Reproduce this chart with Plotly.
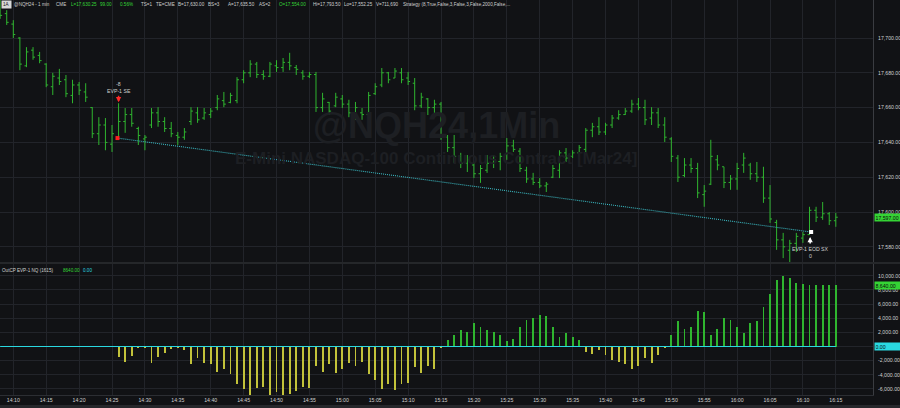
import pandas as pd
import plotly.graph_objects as go

# ---------------- data ----------------
session_day = "2024-01-02"
bar_times = pd.date_range(f"{session_day} 14:08", periods=128, freq="min")

highs = [
    17724, 17716, 17710.25, 17700.5, 17694.75, 17694.75, 17692, 17685.5, 17680, 17682.25,
    17678.75, 17676, 17674.75, 17674, 17660.25, 17654.5, 17654, 17650, 17662.5, 17659.75,
    17659.75, 17649, 17644.25, 17659.75, 17660.25, 17654.5, 17651.75, 17646, 17648.25, 17660.25,
    17660.25, 17659.75, 17659.75, 17667.25, 17669, 17668.5, 17677.5, 17681.5, 17687.25, 17686.25,
    17681.5, 17686.25, 17687.25, 17688.5, 17691.5, 17684.5, 17681.5, 17680.5, 17680.5, 17668.5,
    17663.25, 17668.5, 17667.25, 17664.5, 17663.25, 17659.75, 17669, 17674, 17682.75, 17680.5,
    17682.75, 17682.75, 17680.5, 17677, 17668.5, 17665.5, 17664.5, 17663.25, 17644.25, 17644.25,
    17634, 17632.75, 17628.75, 17627, 17632.75, 17632.75, 17634, 17642.5, 17641.5, 17636.75,
    17626, 17622.5, 17619.5, 17617.25, 17627, 17635.5, 17636.75, 17635.5, 17638.5, 17648.25,
    17651.25, 17654.5, 17651.25, 17655.75, 17658.5, 17659.75, 17664.5, 17665.5, 17664.5, 17660.25,
    17659.75, 17654.5, 17643, 17632.75, 17631, 17631, 17628.25, 17615.5, 17641.5, 17632.75,
    17626, 17621.25, 17628.25, 17634, 17628.25, 17628.75, 17626, 17615.5, 17595.5, 17588,
    17584, 17588, 17588.5, 17603, 17603, 17605.75, 17600, 17599.5,
]
lows = [
    17711, 17707.5, 17700, 17681.5, 17683.25, 17687.5, 17685.5, 17671.75, 17667.25, 17673,
    17666, 17662.5, 17667.25, 17663.25, 17642.5, 17638.5, 17635.5, 17634.5, 17643, 17645.5,
    17649, 17638.5, 17635.5, 17648.25, 17649, 17646, 17643, 17638.5, 17641.5, 17650,
    17651.25, 17653, 17654, 17658.5, 17660.25, 17662.5, 17662.5, 17674, 17677.5, 17677,
    17676, 17677.5, 17680.5, 17680.5, 17681.5, 17678.75, 17676, 17677, 17657.5, 17657.5,
    17655.75, 17660.25, 17659.75, 17654.5, 17653, 17653, 17653, 17667.25, 17671.75, 17674,
    17677, 17674, 17673, 17658.5, 17659.75, 17655.75, 17654.5, 17641.5, 17634.5, 17628.25,
    17625.25, 17623, 17619.5, 17616.75, 17622.5, 17625.25, 17624, 17630, 17634.5, 17623,
    17616.75, 17615.5, 17613.75, 17611.5, 17619.5, 17619.5, 17628.75, 17631, 17632, 17634,
    17643, 17644.25, 17644.25, 17648.25, 17653, 17655.75, 17657, 17658.5, 17650, 17650,
    17648.25, 17640.25, 17628.75, 17617.25, 17620, 17622.5, 17608, 17603, 17615.5, 17624,
    17613.75, 17612.75, 17612.75, 17622.5, 17618.5, 17617.25, 17605.25, 17593.75, 17578.25, 17573.5,
    17571.25, 17577, 17582.25, 17586.75, 17594.25, 17595.5, 17592.5, 17591.5,
]
opens = [
    17722, 17714, 17708, 17700, 17684, 17693, 17690, 17685, 17672, 17677,
    17676, 17667, 17673, 17669, 17660, 17645, 17650, 17639, 17643, 17652,
    17656, 17648, 17642, 17650, 17657, 17652, 17648, 17644, 17643, 17652,
    17657, 17654, 17656, 17660, 17664, 17663, 17664, 17676, 17680, 17685,
    17679, 17678, 17684, 17683, 17686, 17683, 17680, 17678, 17679, 17660,
    17663, 17661, 17665, 17662, 17657, 17657, 17656, 17668, 17673, 17680,
    17677, 17680, 17677, 17674, 17661, 17665, 17660, 17662, 17643, 17637,
    17632, 17628, 17627, 17622, 17624, 17628, 17629, 17633, 17638, 17635,
    17624, 17619, 17617, 17615, 17620, 17624, 17634, 17632, 17634, 17636,
    17647, 17649, 17646, 17650, 17654, 17656, 17658, 17662, 17660, 17654,
    17657, 17650, 17642, 17631, 17621, 17627, 17625, 17610, 17616, 17630,
    17626, 17617, 17619, 17627, 17627, 17622, 17620, 17608, 17594, 17584,
    17578, 17582, 17585, 17587, 17601, 17597, 17599, 17595,
]
closes = [
    17713, 17709, 17702, 17685, 17692, 17689, 17687, 17673, 17678, 17675,
    17668, 17673, 17670, 17666, 17645, 17650, 17640, 17645, 17652, 17656,
    17651, 17644, 17643, 17657, 17652, 17648, 17645, 17643, 17646, 17658,
    17653, 17657, 17658, 17665, 17662, 17667, 17676, 17680, 17685, 17679,
    17678, 17685, 17683, 17686, 17684, 17682, 17678, 17679, 17660, 17665,
    17658, 17666, 17662, 17657, 17660, 17656, 17667, 17672, 17680, 17676,
    17681, 17676, 17675, 17661, 17666, 17660, 17662, 17643, 17637, 17632,
    17628, 17630, 17622, 17625, 17628, 17630, 17632, 17638, 17636, 17625,
    17619, 17617, 17615, 17616, 17625, 17634, 17631, 17634, 17637, 17647,
    17649, 17646, 17650, 17654, 17656, 17658, 17662, 17660, 17653, 17657,
    17650, 17643, 17632, 17620, 17627, 17625, 17611, 17612, 17632, 17627,
    17617, 17619, 17625, 17631, 17622, 17620, 17608, 17596, 17584, 17580,
    17582, 17586, 17587, 17601, 17597, 17599, 17595, 17597,
]

# OutCP EVP-1 NQ (1615) indicator, from 14:26 onwards
outcp_times = pd.date_range(f"{session_day} 14:26", periods=110, freq="min")
outcp = [
    -1520, -2160, -1360, -240, -80, -2320, -1520, -880, -400, -80,
    -560, -2480, -1680, -2320, -2480, -3600, -3120, -3920, -5360, -6000,
    -6800, -5840, -5680, -6800, -6480, -6960, -6640, -6320, -5680, -5840,
    -2800, -3600, -2480, -3760, -3120, -2320, -2800, -2160, -3920, -4720,
    -6000, -5360, -6160, -5360, -5200, -2960, -3760, -2800, -3120, -80,
    880, 1680, 2320, 2000, 3280, 2800, 2320, 2000, 1680, 720,
    1040, 2800, 3760, 4080, 4400, 4240, 2800, 1360, 1840, 1360,
    880, -720, -1040, -560, -1200, -1840, -2160, -2480, -3120, -2800,
    -1680, -2320, -1200, -80, 1680, 3600, 2480, 2800, 5040, 4880,
    1680, 2480, 4080, 3760, 2800, 1840, 3280, 3600, 5520, 7440,
    9360, 10000, 9680, 9040, 8880, 8640, 8640, 8640, 8640, 8640,
]
zero_plot = [0.0] * 128

# trade
entry_time = pd.Timestamp(f"{session_day} 14:25:50")
entry_bar_time = pd.Timestamp(f"{session_day} 14:26")
entry_bar_high = 17662.5
entry_price = 17642.5
exit_time = pd.Timestamp(f"{session_day} 16:11:15")
exit_price = 17588.5
last_price = 17597.00
outcp_last = 8640.00

time_ticks = pd.date_range(f"{session_day} 14:10", f"{session_day} 16:15", freq="5min")
price_ticks = [17580, 17600, 17620, 17640, 17660, 17680, 17700]
ind_ticks = [-6000, -4000, -2000, 0, 2000, 4000, 6000, 8000, 10000]
ind_ticktext = ["-6,000.00", "-4,000.00", "-2,000.00", "", "2,000.00",
                "4,000.00", "6,000.00", "8,000.00", "10,000.00"]

# ---------------- style ----------------
BG = "#111215"
GRID = "#22242a"
GREEN = "#2fb52f"
BRIGHT_GREEN = "#35d435"
YELLOW = "#c2c23a"
CYAN = "#2ad8e0"
TXT = "#cfcfcf"
FONT = "Arial"
FS = 5.2
HFS = 4.6

W, H = 900, 408
ML, MR, MT, MB = 0, 27, 0, 13
PW, PH = W - ML - MR, H - MT - MB


def px(x):
    return x / PW


def py(y):
    return (PH - y) / PH


fig = go.Figure()

# price bars
fig.add_trace(go.Ohlc(
    x=bar_times, open=opens, high=highs, low=lows, close=closes,
    xaxis="x2", yaxis="y2", tickwidth=0.3,
    increasing=dict(line=dict(color=GREEN, width=1)),
    decreasing=dict(line=dict(color=GREEN, width=1)),
    hoverinfo="skip",
))
# trade line
fig.add_trace(go.Scatter(
    x=[entry_time, exit_time], y=[entry_price, exit_price], mode="lines",
    line=dict(color="#3ab6bf", width=1.1, dash="1px,1px"),
    xaxis="x2", yaxis="y2", hoverinfo="skip",
))
fig.add_trace(go.Scatter(
    x=[entry_time], y=[entry_price], mode="markers",
    marker=dict(symbol="square", size=4, color="#ff2020"),
    xaxis="x2", yaxis="y2", hoverinfo="skip",
))
fig.add_trace(go.Scatter(
    x=[exit_time], y=[exit_price], mode="markers",
    marker=dict(symbol="square", size=4, color="#ffffff"),
    xaxis="x2", yaxis="y2", hoverinfo="skip",
))

# indicator
fig.add_trace(go.Bar(
    x=outcp_times, y=outcp,
    marker=dict(color=[GREEN if v > 0 else YELLOW for v in outcp], line=dict(width=0)),
    width=8000, xaxis="x", yaxis="y", hoverinfo="skip",
))
fig.add_trace(go.Scatter(
    x=bar_times, y=zero_plot, mode="lines", line=dict(color=CYAN, width=1),
    xaxis="x", yaxis="y", hoverinfo="skip",
))

x_range = [f"{session_day} 14:07:58.7", f"{session_day} 16:20:39"]
tick_font = dict(family=FONT, size=FS, color=TXT)

fig.update_layout(
    width=W, height=H,
    margin=dict(l=ML, r=MR, t=MT, b=MB),
    paper_bgcolor=BG, plot_bgcolor=BG,
    showlegend=False, bargap=0,
    xaxis=dict(
        domain=[0, 1], anchor="y", type="date", range=x_range,
        tickmode="array", tickvals=list(time_ticks), tickformat="%H:%M",
        showgrid=True, gridcolor=GRID, gridwidth=1, ticks="",
        tickfont=tick_font, showline=True, linecolor="#2c2e33", zeroline=False,
    ),
    xaxis2=dict(
        matches="x", anchor="y2", type="date", range=x_range,
        tickmode="array", tickvals=list(time_ticks),
        showticklabels=False, showgrid=True, gridcolor=GRID, ticks="",
        rangeslider=dict(visible=False), zeroline=False,
    ),
    yaxis=dict(
        domain=[0, 131 / PH], anchor="x", side="right",
        range=[-6850, 11653], tickvals=ind_ticks, ticktext=ind_ticktext,
        showgrid=True, gridcolor=GRID, ticks="", tickfont=tick_font,
        showline=True, linecolor="#3a3c41", zeroline=False,
        ticklabelstandoff=3,
    ),
    yaxis2=dict(
        domain=[(PH - 262) / PH, 1], anchor="x2", side="right",
        range=[17571.27, 17721.84], tickvals=price_ticks, tickformat=",.2f",
        showgrid=True, gridcolor=GRID, ticks="", tickfont=tick_font,
        showline=True, linecolor="#3a3c41", zeroline=False,
        ticklabelstandoff=3,
    ),
)

annotations = []

# watermark
annotations.append(dict(
    xref="paper", yref="paper", x=px(436), y=py(125), text="<b>@NQH24,1Min</b>",
    showarrow=False, font=dict(family=FONT, size=36, color="#1d1f23"),
    xanchor="center", yanchor="middle",
))
annotations.append(dict(
    xref="paper", yref="paper", x=px(436), y=py(158),
    text="<b>E-Mini NASDAQ-100 Continuous Contract [Mar24]</b>",
    showarrow=False, font=dict(family=FONT, size=17, color="#1d1f23"),
    xanchor="center", yanchor="middle",
))

# header line
header_tokens = [
    (13, "@NQH24 - 1 min", TXT), (55, "CME", TXT), (70, "L=17,630.25", BRIGHT_GREEN),
    (99, "99.00", BRIGHT_GREEN), (119, "0.56%", BRIGHT_GREEN), (140, "TS=1", TXT),
    (155, "TE=CME", TXT), (177, "B=17,630.00", TXT), (207, "BS=3", TXT),
    (227, "A=17,635.50", TXT), (258, "AS=2", TXT), (278, "O=17,554.00", BRIGHT_GREEN),
    (312, "Hi=17,793.50", TXT), (343, "Lo=17,552.25", TXT), (375, "V=711,690", TXT),
    (402, "Strategy (8,True,False,3,False,3,False,2000,False,...", TXT),
]
for hx, ht, hc in header_tokens:
    annotations.append(dict(
        xref="paper", yref="paper", x=px(hx), y=py(5), text=ht, showarrow=False,
        font=dict(family=FONT, size=HFS, color=hc), xanchor="left", yanchor="middle",
        borderpad=0,
    ))
annotations.append(dict(
    xref="paper", yref="paper", x=px(0.5), y=py(4.5), text="1A", showarrow=False,
    font=dict(family=FONT, size=HFS, color="#111111"), bgcolor="#d8d8d8",
    xanchor="left", yanchor="middle", borderpad=1,
))

# indicator header
ind_tokens = [(1, "OutCP EVP-1 NQ (1615)", TXT), (62, "8640.00", BRIGHT_GREEN), (82, "0.00", CYAN)]
for hx, ht, hc in ind_tokens:
    annotations.append(dict(
        xref="paper", yref="paper", x=px(hx), y=py(270), text=ht, showarrow=False,
        font=dict(family=FONT, size=HFS, color=hc), xanchor="left", yanchor="middle",
        borderpad=0,
    ))

# trade labels
annotations.append(dict(
    xref="x2", yref="y2", x=entry_bar_time, y=entry_bar_high, text="",
    showarrow=True, ax=0, ay=-8, arrowhead=2, arrowsize=0.7, arrowwidth=1.5,
    arrowcolor="#ff2a2a", standoff=0, yshift=1,
))
annotations.append(dict(
    xref="x2", yref="y2", x=entry_bar_time, y=entry_bar_high, text="EVP-1 SE",
    showarrow=False, yshift=12, font=dict(family=FONT, size=FS, color=TXT),
))
annotations.append(dict(
    xref="x2", yref="y2", x=entry_bar_time, y=entry_bar_high, text="-8",
    showarrow=False, yshift=19, font=dict(family=FONT, size=FS, color=TXT),
))
annotations.append(dict(
    xref="x2", yref="y2", x=exit_time, y=exit_price, text="",
    showarrow=True, ax=0, ay=8, arrowhead=2, arrowsize=0.7, arrowwidth=1.5,
    arrowcolor="#ffffff", standoff=0, yshift=-5, xshift=-1,
))
annotations.append(dict(
    xref="x2", yref="y2", x=exit_time, y=exit_price, text="EVP-1 EOD SX",
    showarrow=False, yshift=-17, xshift=-1, font=dict(family=FONT, size=FS, color=TXT),
))
annotations.append(dict(
    xref="x2", yref="y2", x=exit_time, y=exit_price, text="0",
    showarrow=False, yshift=-24, xshift=-1, font=dict(family=FONT, size=FS, color=TXT),
))

# right-axis value boxes
for yref, yval, txt, bg in [
    ("y2", last_price, "17,597.00", BRIGHT_GREEN),
    ("y", outcp_last, "8,640.00", BRIGHT_GREEN),
    ("y", 0, "0.00", CYAN),
]:
    annotations.append(dict(
        xref="paper", yref=yref, x=1, y=yval, text=txt, showarrow=False,
        xanchor="left", yanchor="middle", xshift=1, width=25, align="left",
        bgcolor=bg, borderpad=0.5, font=dict(family=FONT, size=FS, color="#0a0a0a"),
    ))

fig.update_layout(annotations=annotations)

fig.update_layout(shapes=[
    dict(type="line", xref="paper", yref="paper", x0=0, x1=W / PW,
         y0=py(263), y1=py(263), line=dict(color="#3a3c41", width=1)),
    dict(type="rect", xref="paper", yref="paper", x0=0, x1=W / PW,
         y0=py(405), y1=py(408.5), line=dict(width=0), fillcolor="#26272b", layer="below"),
])

fig.write_html("out.html")
